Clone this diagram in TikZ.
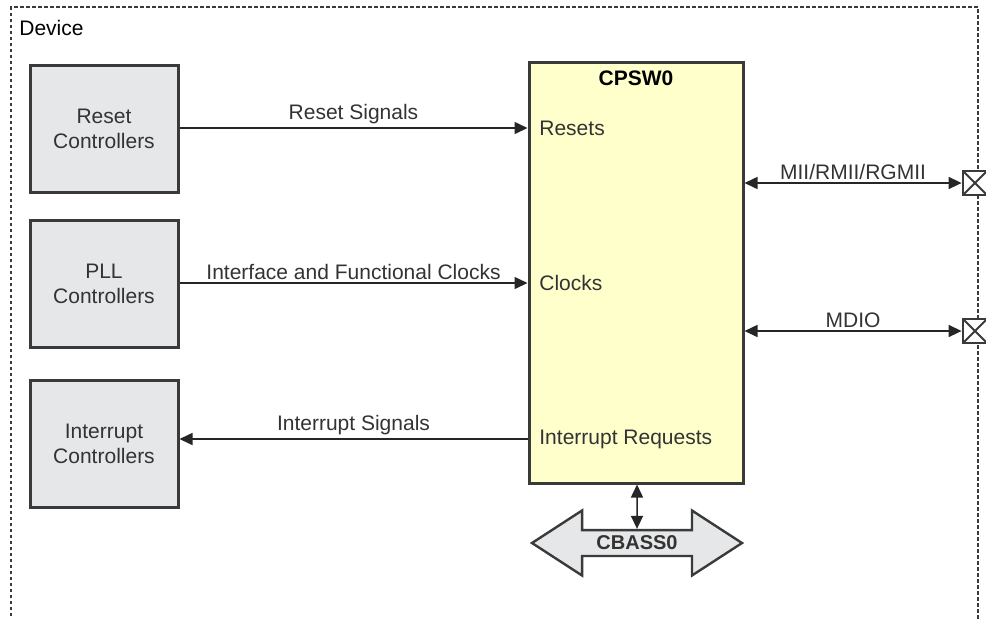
\documentclass[tikz,border=0pt]{standalone}
\usepackage{fontspec}
\setmainfont{Liberation Sans}
\usepackage{xcolor}
\definecolor{cLine}{HTML}{3A3A3A}
\definecolor{cText}{HTML}{333333}
\definecolor{cCtrl}{HTML}{E6E7E8}
\definecolor{cCore}{HTML}{FFFFCC}
\usetikzlibrary{positioning,arrows.meta,shapes.arrows}
\tikzset{
  ctrl-box/.style={draw=cLine,line width=1.5pt,fill=cCtrl,
    minimum width=74pt,minimum height=63.5pt,align=center,text=cText},
  core-box/.style={draw=cLine,line width=1.5pt,fill=cCore,
    minimum width=107pt,minimum height=210.5pt},
  port-box/.style={draw=cLine,line width=1.4pt,fill=white,minimum size=12pt,
    inner sep=0pt,path picture={
      \draw[cLine,line width=1pt]
        (path picture bounding box.north west) -- (path picture bounding box.south east)
        (path picture bounding box.north east) -- (path picture bounding box.south west);}},
  bus-arrow/.style={double arrow,draw=cLine,line width=1.2pt,fill=cCtrl,
    minimum height=105pt,minimum width=32.5pt,double arrow head extend=6.25pt,
    double arrow tip angle=66,inner sep=0pt,font=\bfseries,text=cText},
  lbl/.style={text=cText,inner sep=0pt},
  arrow/.style={-{Triangle[length=6.5pt,width=6pt]},line width=0.75pt,draw=black!85},
  arrow-both/.style={{Triangle[length=6.5pt,width=6pt]}-{Triangle[length=6.5pt,width=6pt]},
    line width=0.75pt,draw=black!85},
  border/.style={draw=cLine,line width=0.9pt,dash pattern=on 1.75pt off 1.25pt},
}

\begin{document}
\begin{tikzpicture}[x=0.5pt,y=-0.5pt,font=\fontsize{10.5}{12.5}\selectfont]
  \useasboundingbox (0,0) rectangle (986,618);
  \clip (0,0) rectangle (986,618);
  % device frame
  \draw[border] (11,640) -- (11,7) -- (978,7) -- (978,640);
  \node[lbl,anchor=west,text=black] (dev) at (19,28) {Device};

  \node[ctrl-box] (rstc) at (104,128.5) {Reset\\Controllers};
  \node[ctrl-box] (pllc) at (104,284) {PLL\\Controllers};
  \node[ctrl-box] (intc) at (104,443.5) {Interrupt\\Controllers};

  \node[core-box] (core) at (636,272.5) {};
  \node[lbl,font=\fontsize{10.5}{12.5}\selectfont\bfseries,text=black] (cpsw) at (636,78) {CPSW0};
  \node[lbl,anchor=west] (resets) at (539,128) {Resets};
  \node[lbl,anchor=west] (clocks) at (539,283) {Clocks};
  \node[lbl,anchor=west] (intreq) at (539,439) {Interrupt Requests};

  \node[port-box] (mii)  at (975,183) {};
  \node[port-box] (mdio) at (975,331) {};

  \node[bus-arrow] (cbass) at (637,543) {CBASS0};

  \draw[arrow] (rstc.east |- resets) -- node[lbl,above=1.5pt] {Reset Signals} (core.west |- resets);
  \draw[arrow] (pllc.east |- clocks) -- node[lbl,above=1.5pt] {Interface and Functional Clocks} (core.west |- clocks);
  \draw[arrow] (core.west |- intreq) -- node[lbl,above=1.5pt] {Interrupt Signals} (intc.east |- intreq);
  \draw[arrow-both] (core.east |- mii) -- node[lbl,above=1.5pt] {MII/RMII/RGMII} (mii.west);
  \draw[arrow-both] (core.east |- mdio) -- node[lbl,above=1.5pt] {MDIO} (mdio.west);
  \draw[arrow-both] (core.south -| cbass) -- (cbass.north);
\end{tikzpicture}
\end{document}
